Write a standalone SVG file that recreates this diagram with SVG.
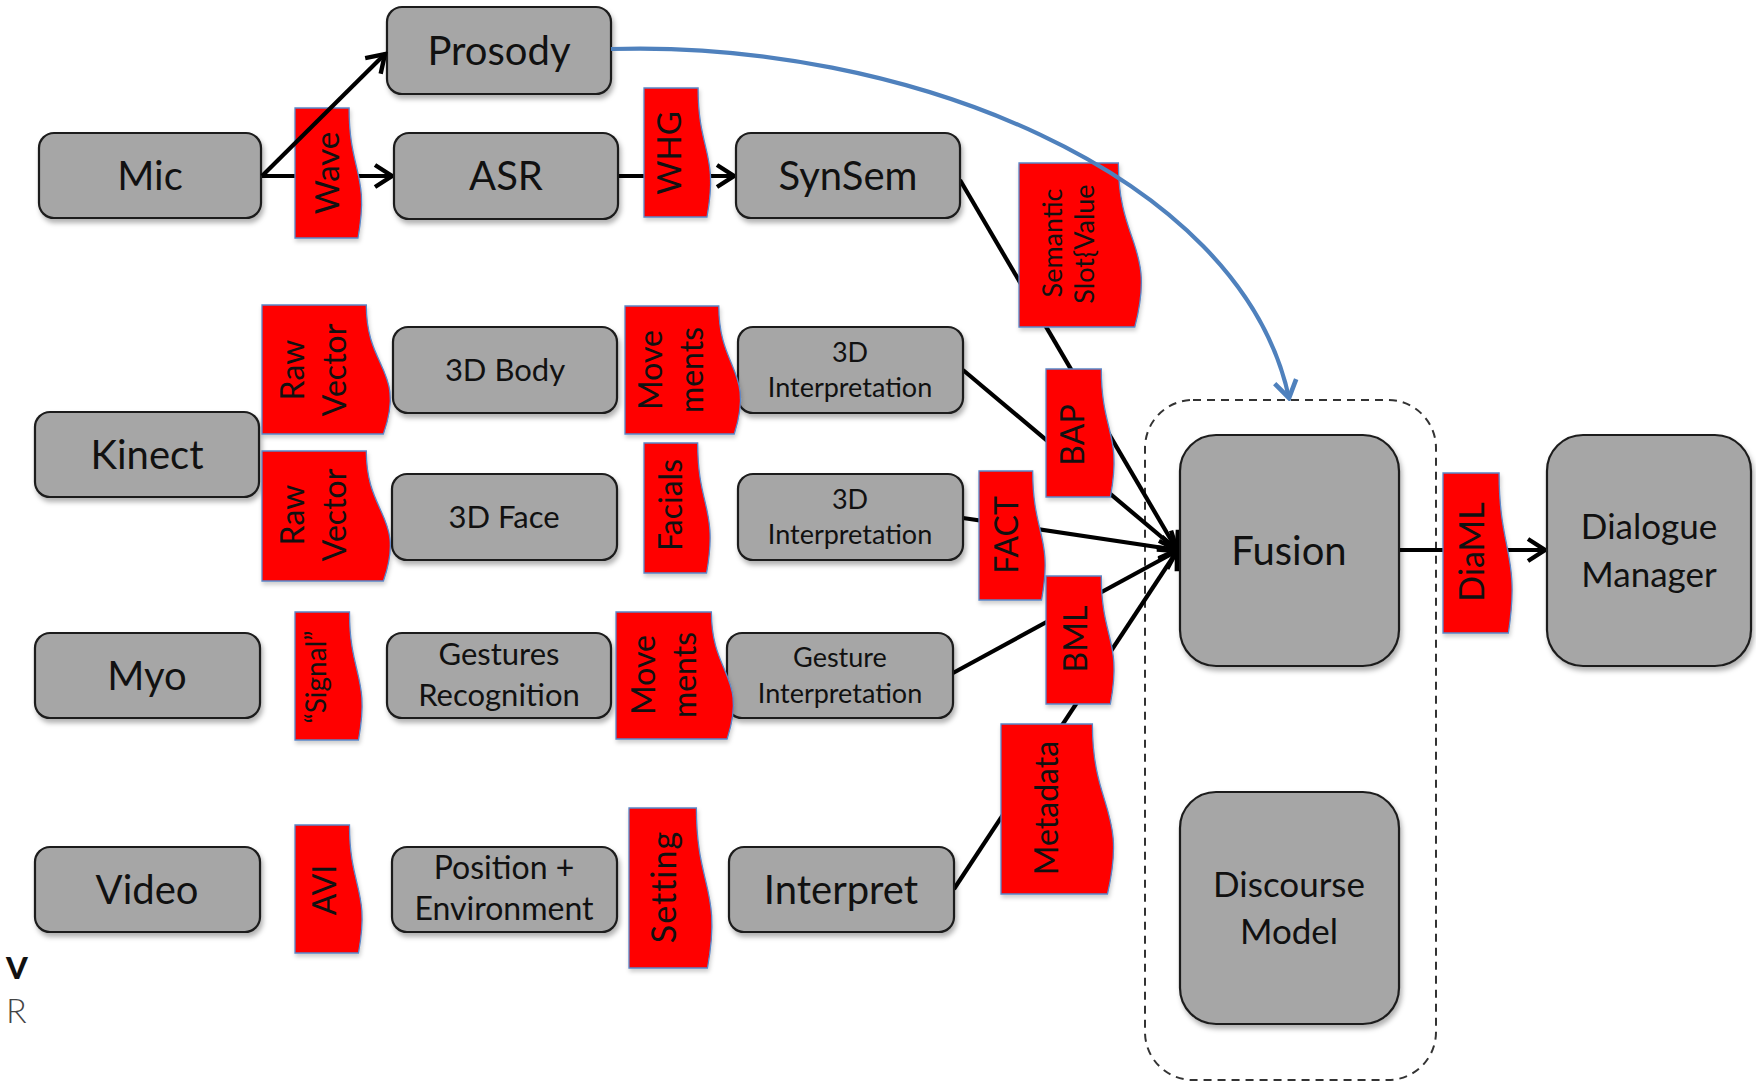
<svg xmlns="http://www.w3.org/2000/svg" width="1756" height="1083" viewBox="0 0 1756 1083">
<style>
text{font-family:Lato,"Open Sans","Liberation Sans",sans-serif;fill:#111}
.node rect{fill:#a6a6a6;stroke:#1e1e1e;stroke-width:2.2;filter:url(#sh)}
.node text{text-anchor:middle}
.tag path{fill:#ff0000;stroke:#5a86c8;stroke-width:1.3;filter:url(#sh2)}
.tag text{text-anchor:middle}
.c{stroke:#000;stroke-width:4.2;fill:none;marker-end:url(#ah)}
.b{stroke:#4f81bd;stroke-width:4.2;fill:none;marker-end:url(#ahb)}
.L{font-size:40px}.D{font-size:35px}.M{font-size:31px}.E{font-size:32px}.S{font-size:27px}.T{font-size:32px}
</style>
<defs>
<filter id="sh" x="-10%" y="-10%" width="125%" height="130%"><feDropShadow dx="2" dy="4" stdDeviation="2.5" flood-color="#000" flood-opacity="0.3"/></filter>
<filter id="sh2" x="-10%" y="-10%" width="125%" height="130%"><feDropShadow dx="1" dy="3" stdDeviation="2" flood-color="#000" flood-opacity="0.2"/></filter>
<marker id="ah" viewBox="0 0 24 28" refX="21" refY="14" markerWidth="24" markerHeight="28" markerUnits="userSpaceOnUse" orient="auto"><path d="M4,3 L21,14 L4,25" fill="none" stroke="#000" stroke-width="4.4"/></marker>
<marker id="ahb" viewBox="0 0 24 28" refX="21" refY="14" markerWidth="24" markerHeight="28" markerUnits="userSpaceOnUse" orient="auto"><path d="M4,3 L21,14 L4,25" fill="none" stroke="#4f81bd" stroke-width="4.6"/></marker>
</defs>
<rect width="1756" height="1083" fill="#fff"/>

<g id="fusion-group">
<rect x="1145" y="400" width="291" height="680" rx="48" fill="none" stroke="#333" stroke-width="2" stroke-dasharray="8,6"/>
</g>

<g id="connectors">
<path class="c" d="M262,176 L392,176"/>
<path class="c" d="M618,176 L734,176"/>
<path class="c" d="M1399,550 L1545,550"/>
<path class="c" d="M960,180 L1177,550"/>
<path class="c" d="M963,370 L1177,550"/>
<path class="c" d="M963,518 L1177,550"/>
<path class="c" d="M953,673 L1177,551"/>
<path class="c" d="M954,889 L1177,551"/>
</g>

<g id="prosody" class="node"><rect x="387" y="7" width="224" height="87" rx="15"/><text class="L" x="499" y="65">Prosody</text></g>
<g id="mic" class="node"><rect x="39" y="133" width="222" height="85" rx="15"/><text class="L" x="150" y="190">Mic</text></g>
<g id="asr" class="node"><rect x="394" y="133" width="224" height="86" rx="15"/><text class="L" x="506" y="190">ASR</text></g>
<g id="synsem" class="node"><rect x="736" y="133" width="224" height="85" rx="15"/><text class="L" x="848" y="190">SynSem</text></g>
<g id="body3d" class="node"><rect x="393" y="327" width="224" height="86" rx="15"/><text class="M" x="505" y="381">3D Body</text></g>
<g id="interp3d1" class="node"><rect x="738" y="327" width="225" height="86" rx="15"/><text class="S" x="850" y="362">3D</text><text class="S" x="850" y="397">Interpretation</text></g>
<g id="kinect" class="node"><rect x="35" y="412" width="224" height="85" rx="15"/><text class="L" x="147" y="469">Kinect</text></g>
<g id="face3d" class="node"><rect x="392" y="474" width="225" height="86" rx="15"/><text class="M" x="504" y="528">3D Face</text></g>
<g id="interp3d2" class="node"><rect x="738" y="474" width="225" height="86" rx="15"/><text class="S" x="850" y="509">3D</text><text class="S" x="850" y="544">Interpretation</text></g>
<g id="myo" class="node"><rect x="35" y="633" width="225" height="85" rx="15"/><text class="L" x="147" y="690">Myo</text></g>
<g id="gestrec" class="node"><rect x="387" y="633" width="224" height="85" rx="15"/><text class="M" x="499" y="665">Gestures</text><text class="M" x="499" y="706">Recognition</text></g>
<g id="gestint" class="node"><rect x="727" y="633" width="226" height="85" rx="15"/><text class="S" x="840" y="667">Gesture</text><text class="S" x="840" y="703">Interpretation</text></g>
<g id="video" class="node"><rect x="35" y="847" width="225" height="85" rx="15"/><text class="L" x="147" y="904">Video</text></g>
<g id="posenv" class="node"><rect x="392" y="847" width="225" height="85" rx="15"/><text class="E" x="504" y="879">Position +</text><text class="E" x="504" y="920">Environment</text></g>
<g id="interpret" class="node"><rect x="729" y="847" width="225" height="85" rx="15"/><text class="L" x="841" y="904">Interpret</text></g>
<g id="fusion" class="node"><rect x="1180" y="435" width="219" height="231" rx="36"/><text class="L" x="1289" y="565">Fusion</text></g>
<g id="discourse" class="node"><rect x="1180" y="792" width="219" height="232" rx="36"/><text class="D" x="1289" y="897">Discourse</text><text class="D" x="1289" y="944">Model</text></g>
<g id="dialogue" class="node"><rect x="1547" y="435" width="204" height="231" rx="36"/><text class="D" x="1649" y="539">Dialogue</text><text class="D" x="1649" y="587">Manager</text></g>

<g id="tag-wave" class="tag"><path d="M295,238 L295,108 L349.1,108 C349.1,173 369.8,173 358,238 Z"/><text style="font-size:33px" transform="translate(339,173) rotate(-90)">Wave</text></g>
<g id="tag-whg" class="tag"><path d="M644,217 L644,88 L698.1,88 C698.1,152.5 718.8,152.5 707,217 Z"/><text style="font-size:33px" transform="translate(681,153) rotate(-90)">WHG</text></g>
<g id="tag-semantic" class="tag"><path d="M1019,327 L1019,163 L1118.4,163 C1118.4,245 1156.3,245 1134.8,327 Z"/><text style="font-size:27px" transform="translate(1062,243) rotate(-90)">Semantic</text><text style="font-size:27px" transform="translate(1094,244) rotate(-90)">Slot{Value</text></g>
<g id="tag-raw1" class="tag"><path d="M262,434 L262,305 L366.3,305 C366.3,369.5 406,369.5 383.4,434 Z"/><text class="T" transform="translate(304,370) rotate(-90)">Raw</text><text class="T" transform="translate(346,370) rotate(-90)">Vector</text></g>
<g id="tag-raw2" class="tag"><path d="M262,581 L262,451 L366.3,451 C366.3,516 406,516 383.4,581 Z"/><text class="T" transform="translate(304,515) rotate(-90)">Raw</text><text class="T" transform="translate(346,515) rotate(-90)">Vector</text></g>
<g id="tag-move1" class="tag"><path d="M625,434 L625,306 L718.8,306 C718.8,370 754.6,370 734.3,434 Z"/><text class="T" transform="translate(662,370) rotate(-90)">Move</text><text class="T" transform="translate(703,370) rotate(-90)">ments</text></g>
<g id="tag-facials" class="tag"><path d="M644,573 L644,443 L697.7,443 C697.7,508 718.2,508 706.6,573 Z"/><text class="T" transform="translate(682,505) rotate(-90)">Facials</text></g>
<g id="tag-fact" class="tag"><path d="M979,600 L979,471 L1032.7,471 C1032.7,535.5 1053.2,535.5 1041.6,600 Z"/><text class="T" transform="translate(1018,535) rotate(-90)">FACT</text></g>
<g id="tag-bap" class="tag"><path d="M1046,497 L1046,369 L1101.3,369 C1101.3,433 1122.4,433 1110.4,497 Z"/><text class="T" transform="translate(1084,435) rotate(-90)">BAP</text></g>
<g id="tag-bml" class="tag"><path d="M1046,704 L1046,576 L1101.3,576 C1101.3,640 1122.4,640 1110.4,704 Z"/><text class="T" transform="translate(1087,639) rotate(-90)">BML</text></g>
<g id="tag-move2" class="tag"><path d="M616,739 L616,612 L711.4,612 C711.4,675.5 747.8,675.5 727.1,739 Z"/><text class="T" transform="translate(655,675) rotate(-90)">Move</text><text class="T" transform="translate(696,675) rotate(-90)">ments</text></g>
<g id="tag-signal" class="tag"><path d="M295,740 L295,612 L349.5,612 C349.5,676 370.3,676 358.5,740 Z"/><text style="font-size:28px" transform="translate(326,677) rotate(-90)">“Signal”</text></g>
<g id="tag-avi" class="tag"><path d="M295,953 L295,825 L349.5,825 C349.5,889 370.3,889 358.5,953 Z"/><text class="T" transform="translate(336,890) rotate(-90)">AVI</text></g>
<g id="tag-setting" class="tag"><path d="M629,968 L629,808 L696.4,808 C696.4,888 722,888 707.5,968 Z"/><text style="font-size:34px;letter-spacing:1px" transform="translate(676,887) rotate(-90)">Setting</text></g>
<g id="tag-metadata" class="tag"><path d="M1001,894 L1001,724 L1092.4,724 C1092.4,809 1127.3,809 1107.5,894 Z"/><text style="font-size:32px" transform="translate(1058,808) rotate(-90)">Metadata</text></g>
<g id="tag-diaml" class="tag"><path d="M1443,633 L1443,473 L1499.1,473 C1499.1,553 1520.5,553 1508.4,633 Z"/><text style="font-size:34px" transform="translate(1484,552) rotate(-90)">DiaML</text></g>

<g id="connectors-over">
<path class="c" d="M262,176 L385,54"/>
<path class="b" d="M611,49 C900,40 1240,170 1289,398"/>
</g>

<text x="6" y="979" style="font-size:31px;font-weight:900">V</text>
<text x="6" y="1023" style="font-size:34px;font-weight:300;fill:#444">R</text>
</svg>
